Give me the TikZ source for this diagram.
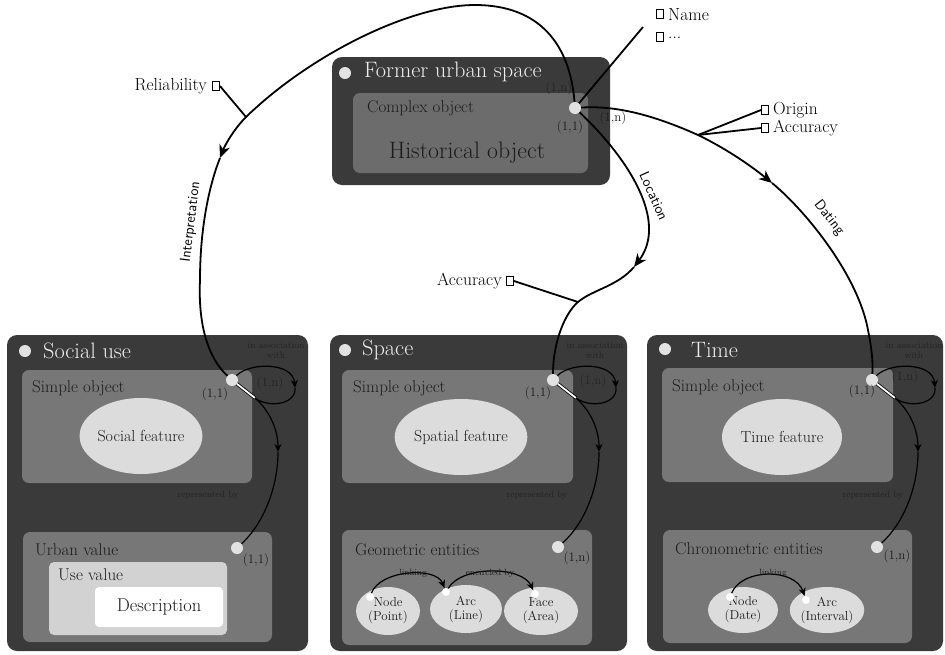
\documentclass[tikz,border=0pt]{standalone}
\usetikzlibrary{arrows.meta,fit,shapes.geometric}
\definecolor{dk}{HTML}{3A3A3A}
\definecolor{md}{HTML}{777777}
\definecolor{mdb}{HTML}{6C6C6C}
\definecolor{ttl}{HTML}{EDEDED}
\definecolor{dotc}{HTML}{E2E2E2}
\definecolor{ellc}{HTML}{DCDCDC}
\definecolor{usev}{HTML}{D2D2D2}
\definecolor{txt}{HTML}{1C1C1C}
\definecolor{faint}{HTML}{242424}
\begin{document}
\begin{tikzpicture}[x=1pt,y=-1pt,
 outerbox/.style={fill=dk, rounded corners=10pt, inner sep=0pt},
 innerbox/.style={fill=md, rounded corners=7pt, inner sep=0pt},
 usebox/.style={fill=usev, rounded corners=5pt, inner sep=0pt},
 descbox/.style={fill=white, rounded corners=4pt, inner sep=0pt},
 dotnode/.style={circle, fill=dotc, minimum size=12pt, inner sep=0pt},
 sdot/.style={circle, fill=white, minimum size=8pt, inner sep=0pt},
 titletxt/.style={text=ttl, font=\fontsize{22.3}{26}\selectfont, inner sep=0pt, anchor=west},
 lbl/.style={text=txt, font=\fontsize{17}{20}\selectfont, inner sep=0pt, anchor=west},
 bigtxt/.style={text=txt, font=\fontsize{23.8}{27}\selectfont, inner sep=0pt},
 feat/.style={ellipse, fill=ellc, inner sep=0pt, text=txt, font=\fontsize{16}{19}\selectfont},
 ent/.style={ellipse, fill=ellc, inner sep=0pt, text=txt, align=center, font=\fontsize{13}{14}\selectfont},
 card/.style={text=txt, font=\fontsize{13}{15}\selectfont, inner sep=0pt},
 fcard/.style={text=faint, font=\fontsize{13}{15}\selectfont, inner sep=0pt},
 tinytxt/.style={text=faint, font=\fontsize{9.3}{10}\selectfont, inner sep=0pt, align=center},
 smalltxt/.style={text=txt, font=\fontsize{9}{10}\selectfont, inner sep=0pt},
 reltxt/.style={font=\sffamily\fontsize{14.5}{16}\selectfont, inner sep=0pt},
 attr/.style={font=\fontsize{17.5}{19}\selectfont, inner sep=0pt},
 abox/.style={draw, line width=0.9pt, fill=white, minimum width=7pt, minimum height=9pt, inner sep=0pt},
 conn/.style={line width=1.8pt},
 iconn/.style={line width=1.2pt},
 big tip/.style={-{Stealth[length=13pt,width=11pt,inset=4pt]}},
 small tip/.style={-{Stealth[length=8pt,width=7pt,inset=2.5pt]}},
 dbl/.style={double=white, double distance=1.8pt, line width=0.8pt},
]
\useasboundingbox (0,0) rectangle (945,654);

% ---------- Former urban space ----------
\node[outerbox, fit={(332,57)(610,185)}] (fus) {};
\node[innerbox, fill=mdb, fit={(353,93)(588,173)}] (cplx) {};
\node[dotnode] (fusdot) at (345,73) {};
\node[titletxt] (fust) at (364,72) {Former urban space};
\node[lbl] (cplxt) at (367,108) {Complex object};
\node[bigtxt] (hist) at (467,153) {Historical object};
\node[dotnode] (d0) at (575,108) {};
\node[fcard] (c1) at (559,88) {(1,n)};
\node[card] (c2) at (570,127) {(1,1)};
\node[card] (c3) at (613,118) {(1,n)};

% ---------- Social use ----------
\node[outerbox, fit={(7,335)(308,651)}] (soc) {};
\node[innerbox, fit={(22,370)(252,483)}] (socs) {};
\node[innerbox, fit={(23,532)(272,642)}] (uv) {};
\node[usebox, fit={(49,562)(227,635)}] (usev) {};
\node[descbox, fit={(95,587)(223,627)}] (desc) {};
\node[dotnode] (socdot) at (25,351) {};
\node[titletxt] (soct) at (43,351) {Social use};
\node[lbl] (socst) at (32,388) {Simple object};
\node[feat, minimum width=118pt, minimum height=76pt] (socf) at (141,436) {Social feature};
\node[lbl] (uvt) at (35,550) {Urban value};
\node[lbl] (usevt) at (58,575) {Use value};
\node[text=txt, font=\fontsize{18.5}{20}\selectfont, inner sep=0pt] (desct) at (desc.center) {Description};

% ---------- Space ----------
\node[outerbox, fit={(330,335)(627,651)}] (spc) {};
\node[innerbox, fit={(342,370)(573,483)}] (spcs) {};
\node[innerbox, fit={(342,530)(592,645)}] (geo) {};
\node[dotnode] (spcdot) at (345,350) {};
\node[titletxt] (spct) at (362,350) {Space};
\node[lbl] (spcst) at (353,388) {Simple object};
\node[feat, minimum width=118pt, minimum height=76pt] (spcf) at (461,437) {Spatial feature};
\node[lbl] (geot) at (355,550) {Geometric entities};
\node[ent, minimum width=64pt, minimum height=48pt] (gnode) at (388,611) {Node\\(Point)};
\node[ent, minimum width=72pt, minimum height=48pt] (garc) at (466,609) {Arc\\(Line)};
\node[ent, minimum width=74pt, minimum height=48pt] (gface) at (541,611) {Face\\(Area)};

% ---------- Time ----------
\node[outerbox, fit={(647,335)(943,651)}] (tim) {};
\node[innerbox, fit={(662,368)(893,482)}] (tims) {};
\node[innerbox, fit={(663,530)(912,643)}] (chr) {};
\node[dotnode] (timdot) at (665,349) {};
\node[titletxt] (timt) at (691,350) {Time};
\node[lbl] (timst) at (672,387) {Simple object};
\node[feat, minimum width=120pt, minimum height=76pt] (timf) at (782,437) {Time feature};
\node[lbl] (chrt) at (675,549) {Chronometric entities};
\node[ent, minimum width=70pt, minimum height=46pt] (tnode) at (743,610) {Node\\(Date)};
\node[ent, minimum width=72pt, minimum height=46pt] (tarc) at (827,610) {Arc\\(Interval)};

% ---------- dots in lower boxes ----------
\node[dotnode] (upa) at (232,380) {};
\node[dotnode] (upb) at (553,380) {};
\node[dotnode] (upc) at (872,380) {};
\node[dotnode] (loa) at (237,548) {};
\node[dotnode] (lob) at (558,547) {};
\node[dotnode] (loc) at (877,547) {};

\node[card] (ca1) at (215,394) {(1,1)};
\node[fcard] (ca2) at (270,383) {(1,n)};
\node[card] (ca3) at (256,560) {(1,1)};
\node[card] (cb1) at (538,393) {(1,1)};
\node[fcard] (cb2) at (593,381) {(1,n)};
\node[card] (cb3) at (577,558) {(1,n)};
\node[card] (cc1) at (862,391) {(1,1)};
\node[fcard] (cc2) at (905,377) {(1,n)};
\node[card] (cc3) at (897,556) {(1,n)};

\node[tinytxt] (ia) at (276,350) {in association\\with};
\node[tinytxt] (ib) at (595,350) {in association\\with};
\node[tinytxt] (ic) at (914,350) {in association\\with};
\node[tinytxt] (ra) at (208,495) {represented by};
\node[tinytxt] (rb) at (537,495) {represented by};
\node[tinytxt] (rc) at (873,495) {represented by};

% ---------- loops and representation arrows ----------
\foreach \dx/\n in {0/a,321/b,640/c}{
  \coordinate (j\n) at (255+\dx,398);
  \coordinate (lp\n) at (295+\dx,388);
  \coordinate (ar\n) at (278+\dx,452);
  \draw[dbl] (up\n) -- (j\n);
  \draw[iconn,small tip] (up\n) .. controls (250+\dx,362) and (293+\dx,362) .. (lp\n);
  \draw[iconn] (lp\n) .. controls (296+\dx,405) and (268+\dx,408) .. (j\n);
  \draw[iconn,small tip] (j\n) .. controls (268+\dx,409) and (278+\dx,428) .. (ar\n);
  \draw[iconn] (ar\n) .. controls (278+\dx,485) and (265+\dx,522) .. (lo\n);
}

% ---------- entity links ----------
\node[sdot] (pnA) at (370,597) {};
\node[sdot] (paA) at (446,592) {};
\node[sdot] (pfA) at (535,594) {};
\node[sdot] (pnT) at (730,597) {};
\node[sdot] (paT) at (806,600) {};
\draw[iconn,small tip] (pnA) .. controls (380,570) and (436,566) .. (paA);
\draw[iconn,small tip] (paA) .. controls (462,565) and (522,566) .. (pfA);
\draw[iconn,small tip] (pnT) .. controls (742,568) and (795,568) .. (paT);
\node[smalltxt] (lk1) at (413,573) {linking};
\node[smalltxt] (lk2) at (490,573) {encircled by};
\node[smalltxt] (lk3) at (773,573) {linking};

% ---------- Interpretation ----------
\coordinate (ipeak) at (475,5);
\coordinate (relj) at (246,117);
\coordinate (iarr) at (220,158);
\coordinate (ilow) at (200,280);
\draw[conn,big tip] (d0) .. controls (570,45) and (540,5) .. (ipeak)
   .. controls (410,5) and (310,55) .. (relj)
   .. controls (234,129) and (225,145) .. (iarr);
\draw[conn] (iarr) .. controls (212,178) and (200,220) .. (ilow)
   .. controls (198,325) and (208,358) .. (upa);
\node[reltxt, rotate=83] (interp) at (191,222) {Interpretation};
\node[attr, anchor=east] (relt) at (207,86) {Reliability};
\node[abox] (relb) at (216,86) {};
\draw[conn] (relb.east) -- (relj);

% ---------- Location ----------
\coordinate (larr) at (634,267);
\coordinate (locj) at (578,302);
\draw[conn,big tip] (d0) .. controls (630,160) and (668,222) .. (larr);
\draw[conn] (larr) .. controls (618,286) and (592,290) .. (locj)
   .. controls (565,313) and (553,342) .. (upb);
\node[reltxt, rotate=-66] (locl) at (654,196) {Location};
\node[attr, anchor=east] (acc1t) at (502,281) {Accuracy};
\node[abox] (acc1b) at (510,281) {};
\draw[conn] (acc1b.east) -- (locj);

% ---------- Dating ----------
\coordinate (datj) at (698,135);
\coordinate (darr) at (772,183);
\coordinate (dlow) at (868,330);
\draw[conn,big tip] (d0) .. controls (620,105) and (660,118) .. (datj)
   .. controls (725,148) and (750,165) .. (darr);
\draw[conn] (darr) .. controls (805,210) and (858,275) .. (dlow)
   .. controls (872,350) and (873,362) .. (upc);
\node[reltxt, rotate=-52] (datl) at (829,218) {Dating};
\node[abox] (orb) at (765,110) {};
\node[attr, anchor=west] (ort) at (773,110) {Origin};
\node[abox] (acb) at (765,128) {};
\node[attr, anchor=west] (act) at (773,128) {Accuracy};
\draw[conn] (datj) -- (orb.west);
\draw[conn] (datj) -- (acb.west);

% ---------- Name ----------
\node[abox] (nameb) at (660,14) {};
\node[attr, anchor=west] (namet) at (668,15) {Name};
\node[abox] (etcb) at (660,37) {};
\node[attr, anchor=west] (etct) at (668,38) {...};
\coordinate (namej) at (643,27);
\draw[conn] (namej) -- (d0);
\end{tikzpicture}
\end{document}
